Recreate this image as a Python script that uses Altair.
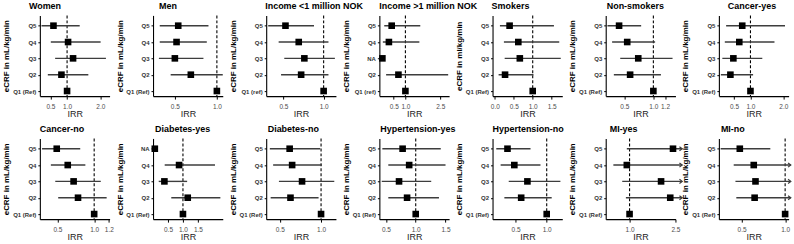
import altair as alt
import pandas as pd

# Row labels (top to bottom) used by the panels
Q_REF = ["Q5", "Q4", "Q3", "Q2", "Q1 (Ref)"]
Q_REF_LOWER = ["Q5", "Q4", "Q3", "Q2", "Q1 (ref)"]
Q_INCOME_HIGH = ["Q5", "Q4", "NA", "Q2", "Q1 (ref)"]
Q_DIABETES_YES = ["NA", "Q4", "Q3", "Q2", "Q1 (Ref)"]

# Incidence rate ratios with 95% CI, rows ordered Q5, Q4, Q3, Q2, Q1 (reference)
women_irr = [0.59, 1.03, 1.18, 0.83, 1.0]
women_lo = [0.23, 0.51, 0.64, 0.42, None]
women_hi = [1.38, 2.01, 2.17, 1.64, None]

men_irr = [0.54, 0.52, 0.50, 0.69, 1.0]
men_lo = [0.32, 0.32, 0.31, 0.45, None]
men_hi = [0.90, 0.88, 0.84, 1.07, None]

inc_low_irr = [0.525, 0.69, 0.76, 0.72, 1.0]
inc_low_lo = [0.31, 0.44, 0.51, 0.47, None]
inc_low_hi = [0.88, 1.06, 1.14, 1.06, None]

inc_high_irr = [0.41, 0.29, 0.01, 0.70, 1.0]
inc_high_lo = [0.09, 0.03, None, 0.17, None]
inc_high_hi = [1.64, 1.60, None, 2.84, None]

smk_irr = [0.39, 0.62, 0.66, 0.27, 1.0]
smk_lo = [0.135, 0.24, 0.26, 0.10, None]
smk_hi = [1.56, 1.70, 1.74, 1.02, None]

nonsmk_irr = [0.41, 0.55, 0.74, 0.60, 1.0]
nonsmk_lo = [0.21, 0.29, 0.43, 0.32, None]
nonsmk_hi = [0.79, 1.03, 1.33, 1.13, None]

cancer_yes_irr = [0.75, 0.66, 0.48, 0.39, 1.0]
cancer_yes_lo = [0.26, 0.22, 0.145, 0.10, None]
cancer_yes_hi = [2.05, 1.73, 1.36, 1.08, None]

cancer_no_irr = [0.49, 0.64, 0.72, 0.78, 1.0]
cancer_no_lo = [0.29, 0.41, 0.47, 0.51, None]
cancer_no_hi = [0.81, 0.88, 1.09, 1.17, None]

diab_yes_irr = [0.06, 0.87, 0.38, 1.16, 1.0]
diab_yes_lo = [None, 0.39, 0.19, 0.61, None]
diab_yes_hi = [None, 2.07, 1.14, 2.25, None]

diab_no_irr = [0.62, 0.65, 0.77, 0.63, 1.0]
diab_no_lo = [0.38, 0.42, 0.49, 0.39, None]
diab_no_hi = [0.99, 1.01, 1.16, 0.97, None]

htn_yes_irr = [0.78, 0.89, 0.72, 0.855, 1.0]
htn_yes_lo = [0.44, 0.54, 0.43, 0.54, None]
htn_yes_hi = [1.42, 1.50, 1.26, 1.39, None]

htn_no_irr = [0.37, 0.48, 0.69, 0.59, 1.0]
htn_no_lo = [0.19, 0.26, 0.39, 0.32, None]
htn_no_hi = [0.74, 0.90, 1.22, 1.08, None]

# Upper limits of these rows run past the axis and are drawn as arrows
mi_yes_irr = [2.42, 0.91, 2.03, 2.33, 1.0]
mi_yes_lo = [0.91, 0.47, 0.76, 0.88, None]
mi_yes_hi = [None, None, None, None, None]
mi_yes_open = [True, True, True, True, False]

mi_no_irr = [0.48, 0.64, 0.66, 0.65, 1.0]
mi_no_lo = [0.26, 0.41, 0.43, 0.44, None]
mi_no_hi = [0.83, None, None, None, None]
mi_no_open = [False, True, True, True, False]

NO_ARROWS = [False] * 5

ML = "eCRF in mL/kg/min"

# title, row labels, irr, lo, hi, open-ended flags, ticks, x domain, arrow tip, title shift, y title
PANELS = [
    ("Women", Q_REF, women_irr, women_lo, women_hi, NO_ARROWS, [0.5, 1.0, 2.0], [0.18, 2.28], None, -11, ML),
    ("Men", Q_REF, men_irr, men_lo, men_hi, NO_ARROWS, [0.5, 1.0], [0.24, 1.07], None, 6, ML),
    ("Income <1 million NOK", Q_REF_LOWER, inc_low_irr, inc_low_lo, inc_low_hi, NO_ARROWS, [0.5, 1.0], [0.285, 1.153], None, -1, ML),
    ("Income >1 million NOK", Q_INCOME_HIGH, inc_high_irr, inc_high_lo, inc_high_hi, NO_ARROWS, [0.5, 1.0, 2.5], [-0.12, 2.88], None, 0, ML),
    ("Smokers", Q_REF, smk_irr, smk_lo, smk_hi, NO_ARROWS, [0.0, 0.5, 1.0, 1.5], [-0.06, 1.78], None, -1, "eCRF in ml/kg/min"),
    ("Non-smokers", Q_REF, nonsmk_irr, nonsmk_lo, nonsmk_hi, NO_ARROWS, [0.5, 1.0, 1.2], [0.18, 1.38], None, 1, ML),
    ("Cancer-yes", Q_REF, cancer_yes_irr, cancer_yes_lo, cancer_yes_hi, NO_ARROWS, [0.5, 1.0, 2.0], [0.04, 2.16], None, 9, ML),
    ("Cancer-no", Q_REF, cancer_no_irr, cancer_no_lo, cancer_no_hi, NO_ARROWS, [0.5, 1.0, 1.2], [0.26, 1.21], None, 0, ML),
    ("Diabetes-yes", Q_DIABETES_YES, diab_yes_irr, diab_yes_lo, diab_yes_hi, NO_ARROWS, [0.5, 1.0, 1.5], [0.0, 2.33], None, 2, ML),
    ("Diabetes-no", Q_REF, diab_no_irr, diab_no_lo, diab_no_hi, NO_ARROWS, [0.5, 1.0], [0.336, 1.18], None, 1.5, ML),
    ("Hypertension-yes", Q_REF, htn_yes_irr, htn_yes_lo, htn_yes_hi, NO_ARROWS, [0.5, 1.0, 1.5], [0.39, 1.56], None, 1, ML),
    ("Hypertension-no", Q_REF, htn_no_irr, htn_no_lo, htn_no_hi, NO_ARROWS, [0.5, 1.0], [0.13, 1.25], None, 0, ML),
    ("MI-yes", Q_REF, mi_yes_irr, mi_yes_lo, mi_yes_hi, mi_yes_open, [1.0, 2.5], [0.22, 2.5], 2.72, 4, ML),
    ("MI-no", Q_REF, mi_no_irr, mi_no_lo, mi_no_hi, mi_no_open, [0.5, 1.0], [0.24, 1.04], 1.065, 2, ML),
]

FONT = "Liberation Sans"
PANEL_W = 70
PANEL_H = 81


def forest(title, labels, irr, lo, hi, open_end, ticks, domain, tip, dx, ytitle):
    hi_drawn = [tip if o else h for h, o in zip(hi, open_end)]
    df = pd.DataFrame({"row": labels, "irr": irr, "lo": lo, "hi": hi_drawn, "open": open_end})

    xscale = alt.Scale(domain=domain, nice=False, zero=False)
    xaxis = alt.Axis(values=ticks, format=".1f", title="IRR", grid=False)
    y = alt.Y(
        "row:N",
        sort=labels,
        scale=alt.Scale(type="point", padding=0.47, align=0.67),
        axis=alt.Axis(title=ytitle),
    )
    base = alt.Chart(df)

    ci = base.mark_rule(color="#3d3d3d", strokeWidth=1.4).encode(
        x=alt.X("lo:Q", scale=xscale, axis=xaxis), x2="hi:Q", y=y
    )
    heads = base.transform_filter("datum.open").mark_point(
        shape="M-1,-0.75L0,0L-1,0.75", filled=False, color="#3d3d3d", strokeWidth=1.2, size=30, opacity=1
    ).encode(x=alt.X("hi:Q", scale=xscale, axis=xaxis), y=y)
    ref = alt.Chart(pd.DataFrame({"ref": [1.0]})).mark_rule(
        color="black", strokeDash=[3, 2], strokeWidth=1.1
    ).encode(x=alt.X("ref:Q", scale=xscale, axis=xaxis))
    pts = base.mark_square(color="black", size=44, opacity=1).encode(
        x=alt.X("irr:Q", scale=xscale, axis=xaxis), y=y
    )

    return alt.layer(ref, ci, heads, pts).properties(
        width=PANEL_W,
        height=PANEL_H,
        title=alt.TitleParams(
            text=title, anchor="start", frame="group", dx=dx, offset=4,
            fontSize=9, fontWeight="bold", font=FONT, color="black",
        ),
    )


chart = (
    alt.concat(
        *[forest(*p) for p in PANELS],
        columns=7,
        spacing=alt.RowColnumber(row=42.5, column=43.6),
        bounds="flush",
    )
    .properties(padding={"left": 2, "top": 1, "right": 0, "bottom": 0}, background="white")
    .configure_view(stroke=None)
    .configure_axis(
        domainColor="black", domainWidth=1.1, tickColor="black", tickWidth=1,
        labelFont=FONT, titleFont=FONT,
    )
    .configure_axisX(
        tickSize=3, labelFontSize=6.5, labelColor="#4d4d4d", labelPadding=4,
        titleFontSize=9, titleFontWeight="normal", titleColor="#222222", titlePadding=0,
        labelFlush=False,
    )
    .configure_axisY(
        tickSize=2, labelFontSize=6, labelFontWeight="bold", labelColor="#333333", labelPadding=2,
        titleFontSize=8, titleFontWeight="bold", titleColor="black", titleX=-29,
    )
)

chart.save("out.html", embed_options={"renderer": "svg", "actions": False})
